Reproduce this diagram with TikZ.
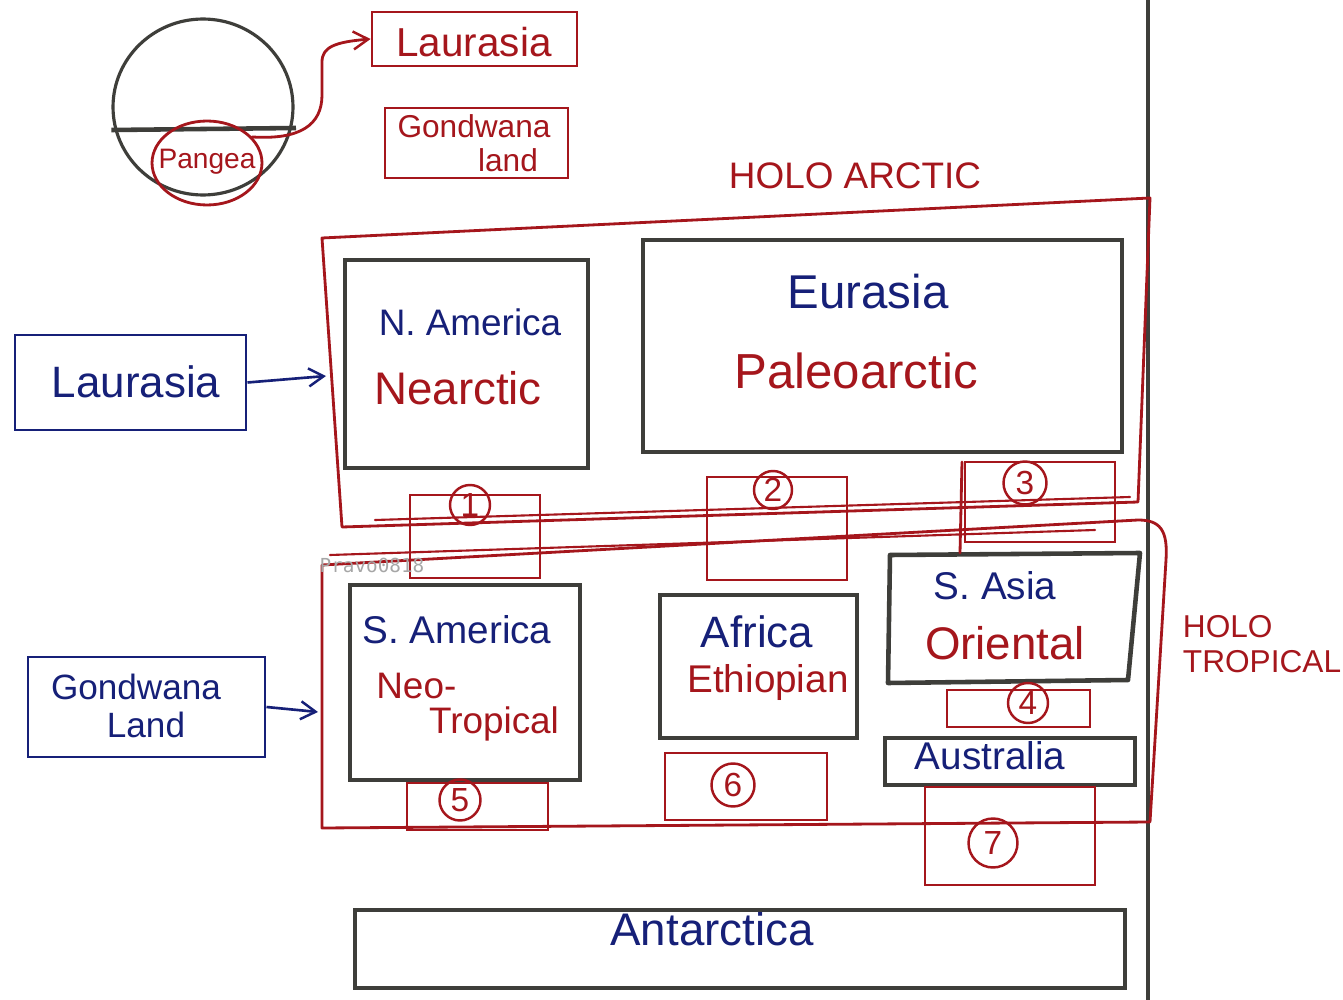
\documentclass[tikz,border=0pt]{standalone}
\usepackage{fontspec}
\setmainfont{Liberation Sans}
\newfontfamily\wmfont{DejaVu Sans Mono}
\usetikzlibrary{arrows.meta,shapes.geometric,fit,calc}
\definecolor{ink}{RGB}{22,32,120}
\definecolor{rd}{RGB}{165,22,28}
\definecolor{gr}{RGB}{62,62,58}
\begin{document}
\begin{tikzpicture}[x=0.02cm,y=-0.02cm,
  graybox/.style={draw=gr, line width=2.6pt, inner sep=0pt},
  redbox/.style={draw=rd, line width=1.6pt, inner sep=0pt},
  bluebox/.style={draw=ink, line width=1.7pt, inner sep=0pt},
  bl/.style={text=ink, font=\fontsize{#1}{#1}\selectfont, inner sep=0pt},
  rt/.style={text=rd, font=\fontsize{#1}{#1}\selectfont, inner sep=0pt},
  num/.style={circle, draw=rd, line width=1.4pt, minimum size=#1, inner sep=0pt, text=rd, font=\fontsize{19}{19}\selectfont},
  redline/.style={draw=rd, line width=1.6pt, line join=round, line cap=round},
  sketcharrow/.style={-{Straight Barb[length=0.3cm,width=0.36cm,line width=1.4pt]}},
]
\useasboundingbox (0,0) rectangle (1343,1000);
\fill[white] (0,0) rectangle (1343,1000);

% divider line on the right
\draw[gr, line width=2.2pt] (1148,0) -- (1148,1000);

% Pangea globe
\node[ellipse, draw=gr, line width=1.8pt, minimum width=3.6cm, minimum height=3.52cm, inner sep=0pt] (globe) at (203,107) {};
\draw[gr, line width=2.6pt] (globe.west |- 0,130) -- (296,128);
\node[ellipse, draw=rd, line width=1.6pt, minimum width=2.2cm, minimum height=1.68cm, inner sep=0pt] (pg) at (207,163) {};
\node[rt=16] (pgt) at (207,162) {Pangea};

% Laurasia / Gondwana land (top, red)
\node[redbox, fit={(372,12) (577,66)}] (lau) {};
\node[rt=23] (laut) at (474,42) {Laurasia};
\node[redbox, fit={(385,108) (568,178)}] (gon) {};
\node[rt=18] (gont) at (474,126) {Gondwana};
\node[rt=18] (gont2) at (508,160) {land};
\draw[redline, sketcharrow] (pg.30) .. controls (300,140) and (322,125) .. (322,95) -- (322,62) .. controls (322,47) and (335,42) .. (lau.west);

% HOLO ARCTIC frame
\node[rt=21] (hat) at (855,176) {HOLO ARCTIC};
\coordinate (hW) at (326,376);
\draw[redline] (322,238) -- (1150,198) -- (1138,502) -- (342,527) -- cycle;
\draw[redline, line width=1.2pt] (375,520) -- (1130,497);

% HOLO TROPICAL frame
\node[rt=18, align=left] (htt) at (1262,644) {HOLO\\[2pt]TROPICAL};
\coordinate (tW) at (318,712);
\draw[redline] (322,828) -- (322,565) -- (1138,520) .. controls (1160,520) and (1168,530) .. (1166,560) -- (1150,822) -- cycle;
\draw[redline, line width=1.2pt] (330,555) -- (1095,530);

% Holarctic inner boxes
\node[graybox, fit={(345,260) (588,468)}] (na) {};
\node[bl=21] (nat) at (470,322) {N. America};
\node[rt=26] (nart) at (458,388) {Nearctic};
\node[graybox, fit={(643,240) (1122,452)}] (eu) {};
\node[bl=27] (eut) at (868,292) {Eurasia};
\node[rt=28] (pat) at (856,371) {Paleoarctic};

% Holotropical inner boxes
\node[graybox, fit={(350,585) (580,780)}] (sam) {};
\node[bl=22] (samt) at (457,630) {S. America};
\node[rt=21, anchor=west] (neot) at (376,686) {Neo-};
\node[rt=21] (tropt) at (494,724) {Tropical};
\node[graybox, fit={(660,595) (857,738)}] (af) {};
\node[bl=25] (aft) at (757,632) {Africa};
\node[rt=22] (etht) at (768,683) {Ethiopian};
\node[fit={(888,555) (1140,682)}, inner sep=0pt] (as) {};
\draw[gr, line width=2.6pt, line join=round] (890,555) -- (1140,553) -- (1128,680) -- (888,683) -- cycle;
\node[bl=22] (ast) at (995,586) {S. Asia};
\node[rt=26] (ort) at (1005,643) {Oriental};
\node[graybox, fit={(885,738) (1135,785)}] (au) {};
\node[bl=22] (aut) at (990,756) {Australia};
\node[graybox, fit={(355,910) (1125,988)}] (an) {};
\node[bl=26] (ant) at (712,929) {Antarctica};

% numbered red boxes
\node[redbox, fit={(410,495) (540,578)}] (b1) {};
\node[num=0.8cm] (n1) at (470,505) {1};
\node[redbox, fit={(707,477) (847,580)}] (b2) {};
\node[num=0.76cm] (n2) at (773,490) {2};
\node[redbox, fit={(965,462) (1115,542)}] (b3) {};
\draw[redline] (962,462) -- (960,553);
\node[num=0.86cm] (n3) at (1025,483) {3};
\node[redbox, fit={(947,690) (1090,727)}] (b4) {};
\node[num=0.8cm] (n4) at (1028,703) {4};
\node[redbox, fit={(407,783) (548,830)}] (b5) {};
\node[num=0.82cm] (n5) at (460,800) {5};
\node[redbox, fit={(665,753) (827,820)}] (b6) {};
\node[num=0.86cm] (n6) at (733,785) {6};
\node[redbox, fit={(925,787) (1095,885)}] (b7) {};
\node[num=0.98cm] (n7) at (993,843) {7};

% left blue boxes
\node[bluebox, fit={(15,335) (246,430)}] (lb) {};
\node[bl=25] (lbt) at (136,382) {Laurasia};
\draw[ink, line width=1.5pt, sketcharrow] (lb.east) -- (hW);
\node[bluebox, fit={(28,657) (265,757)}] (gb) {};
\node[bl=20] (gbt) at (136,687) {Gondwana};
\node[bl=20] (gbt2) at (146,725) {Land};
\draw[ink, line width=1.5pt, sketcharrow] (gb.east) -- (tW);

% watermark
\node[text=black!35, font=\wmfont\fontsize{11}{11}\selectfont, inner sep=0pt] (wm) at (372,565) {Pravo0818};
\end{tikzpicture}
\end{document}
